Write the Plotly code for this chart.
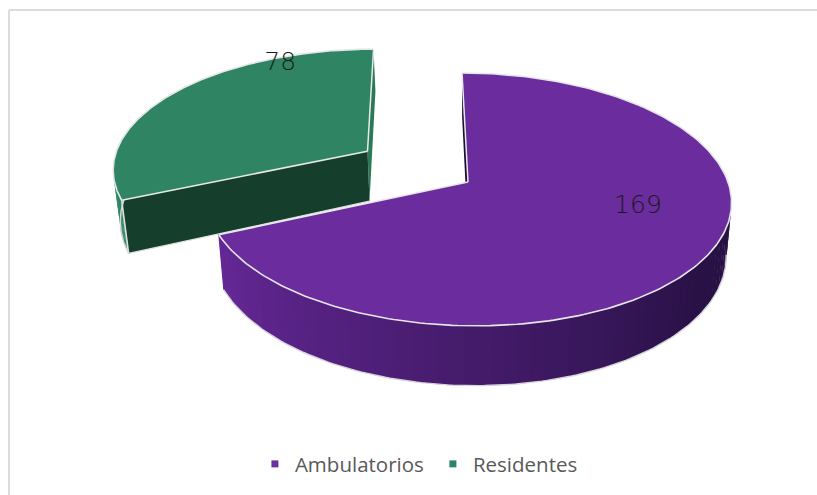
import numpy as np
import plotly.graph_objects as go

categories = ["Ambulatorios", "Residentes"]
values = [169, 78]
top_colors = ["#6b2c9e", "#2f8563"]
legend_colors = ["#7030a0", "#2f8563"]
inner_colors = ["#1d0d33", "#153f2c"]
end_colors = ["#1d0d33", "#2a7a5a"]
side_light = [(0x66, 0x28, 0x98), (0x2f, 0x85, 0x63)]
side_dark = [(0x28, 0x11, 0x45), (0x2f, 0x85, 0x63)]
explode = [0.0, 0.47]
label_pos = [(107, 0.66), (334, 0.934)]  # (clock angle, radius fraction)

CX, CY, A, B, K, S, DEPTH = 468, 182, 260, 124, 0.138, -6.8, 52


def project(u, v, depth=0.0):
    w = 1 + K * v
    x = CX + (A * u + S * v) / w
    y = CY - B * v / w + depth * (1 - 0.15 * v)
    if depth:
        x = CX + (x - CX) * 0.98
    return x, y


def disc(theta_deg, r=1.0, off=(0.0, 0.0)):
    t = np.radians(theta_deg)
    return off[0] + r * np.sin(t), off[1] + r * np.cos(t)


def poly(xs, ys, fill):
    return go.Scatter(x=list(xs), y=list(ys), mode="lines", fill="toself", fillcolor=fill,
                      line=dict(color="rgba(0,0,0,0)", width=0), hoverinfo="skip", showlegend=False)


def edge(xs, ys, color="#e6e6ea", width=1.6):
    return go.Scatter(x=list(xs), y=list(ys), mode="lines",
                      line=dict(color=color, width=width), hoverinfo="skip", showlegend=False)


total = sum(values)
spans = []
a0 = 0.0
for v_ in values:
    spans.append((a0, a0 + 360.0 * v_ / total))
    a0 += 360.0 * v_ / total

fig = go.Figure()


def draw_slice(i, shade):
    start, end = spans[i]
    mid = np.radians((start + end) / 2)
    off = (explode[i] * np.sin(mid), explode[i] * np.cos(mid))
    th = np.linspace(start, end, 240)
    u, v = disc(th, 1.0, off)
    ax, ay = project(off[0], off[1])
    ax2, ay2 = project(off[0], off[1], DEPTH)
    us, vs = disc(start, 1.0, off)
    ue, ve = disc(end, 1.0, off)
    sx, sy = project(us, vs)
    sx2, sy2 = project(us, vs, DEPTH)
    ex, ey = project(ue, ve)
    ex2, ey2 = project(ue, ve, DEPTH)
    # flat walls
    fig.add_trace(poly([ax, ex, ex2, ax2], [ay, ey, ey2, ay2], end_colors[i]))
    fig.add_trace(poly([ax, sx, sx2, ax2], [ay, sy, sy2, ay2], inner_colors[i]))
    # outer wall, shaded by angle, only the parts facing the viewer
    n = 96
    seg = np.linspace(start, end, n + 1)
    for k in range(n):
        lo, hi = seg[k], seg[k + 1]
        c = (lo + hi) / 2
        if not (70 < c < 292):
            continue
        uu, vv = disc(np.linspace(lo, hi + 0.4, 4), 1.0, off)
        x1, y1 = project(uu, vv)
        x2, y2 = project(uu, vv, DEPTH)
        f = shade(c)
        col = tuple(int(side_light[i][j] * (1 - f) + side_dark[i][j] * f) for j in range(3))
        fig.add_trace(poly(np.r_[x1, x2[::-1]], np.r_[y1, y2[::-1]], "rgb(%d,%d,%d)" % col))
    # lower rim, only along the front silhouette
    vis = (th > 98) & (th < 276)
    if vis.any():
        bx, by = project(u[vis], v[vis], DEPTH)
        fig.add_trace(edge(bx, by, "#d9d5de", 1.4))
    # top surface
    x, y = project(u, v)
    fig.add_trace(poly(np.r_[ax, x, ax], np.r_[ay, y, ay], top_colors[i]))
    fig.add_trace(edge(x, y))
    fig.add_trace(edge([ax, sx], [ay, sy], "#e8e8ec", 1.5))
    fig.add_trace(edge([ax, ex], [ay, ey], "#e8e8ec", 1.5))
    return sx, sy, sx2, sy2, ax2, ay2


g = draw_slice(1, lambda c: 0.0)
fig.add_trace(edge([g[0], g[2]], [g[1], g[3]], "#dfe3e1", 1.6))
fig.add_trace(edge([g[2], g[4]], [g[3], g[5]], "#dfe3e1", 1.2))

draw_slice(0, lambda c: float(np.clip((245 - c) / 120, 0.02, 1.0)))

# value labels
for i, (ang, r) in enumerate(label_pos):
    start, end = spans[i]
    mid = np.radians((start + end) / 2)
    off = (explode[i] * np.sin(mid), explode[i] * np.cos(mid))
    u, v = disc(ang, r, off)
    x, y = project(u, v)
    fig.add_trace(go.Scatter(x=[x], y=[y], mode="text", text=[str(values[i])],
                             textfont=dict(family="DejaVu Sans Light, DejaVu Sans ExtraLight, DejaVu Sans",
                                           size=25, color="#1a1a1a"),
                             hoverinfo="skip", showlegend=False))

# legend entries
for name, col in zip(categories, legend_colors):
    fig.add_trace(go.Scatter(x=[None], y=[None], mode="markers", name=name,
                             marker=dict(symbol="square", size=7, color=col)))

fig.update_layout(
    width=817, height=495, margin=dict(l=0, r=0, t=0, b=0),
    paper_bgcolor="white", plot_bgcolor="white",
    xaxis=dict(range=[0, 817], visible=False, fixedrange=True),
    yaxis=dict(range=[495, 0], visible=False, fixedrange=True),
    showlegend=True,
    legend=dict(orientation="h", x=0.312, xanchor="left", y=0.0625, yanchor="middle",
                font=dict(family="Open Sans", size=20.5, color="#595959"),
                bgcolor="rgba(0,0,0,0)", entrywidth=133, entrywidthmode="pixels"),
    shapes=[dict(type="line", xref="x", yref="y", x0=9, y0=10, x1=817, y1=10,
                 line=dict(color="#dcdcdc", width=2), layer="below"),
            dict(type="line", xref="x", yref="y", x0=9, y0=10, x1=9, y1=495,
                 line=dict(color="#dcdcdc", width=2), layer="below")],
)
fig.write_html("out.html", config={"displayModeBar": False},
               post_script="document.body.style.margin='0';document.documentElement.style.overflow='hidden';")
